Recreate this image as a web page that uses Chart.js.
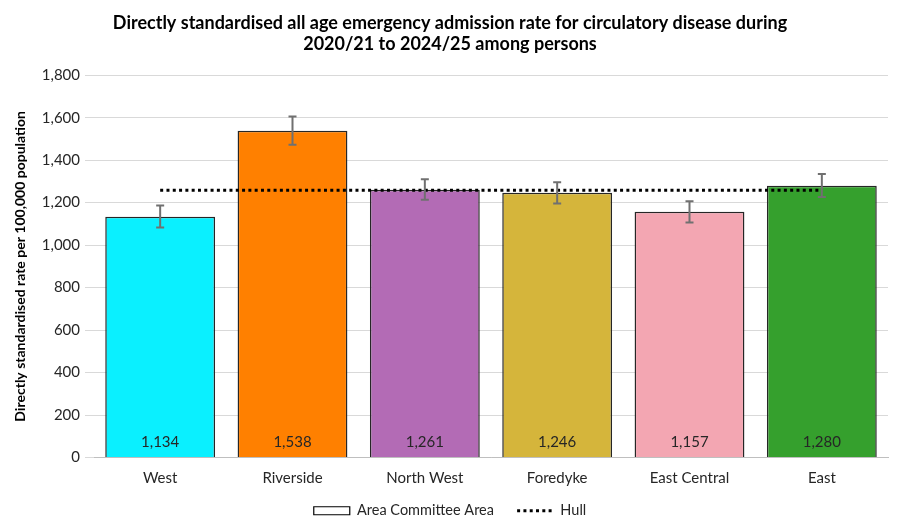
<!DOCTYPE html>
<html>
<head>
<meta charset="utf-8">
<script src="https://cdn.jsdelivr.net/npm/chart.js@4"></script>
<style>
  html, body { margin: 0; padding: 0; background: #fff; }
  #wrap { width: 902px; height: 528px; }
</style>
</head>
<body>
<div id="wrap"><canvas id="chart"></canvas></div>
<script>
const areas = ['West', 'Riverside', 'North West', 'Foredyke', 'East Central', 'East'];
const rates = [1134, 1538, 1261, 1246, 1157, 1280];
const lowerCI = [1083, 1473, 1214, 1196, 1106, 1226];
const upperCI = [1186, 1605, 1310, 1296, 1206, 1335];
const hullRate = [1258, 1258, 1258, 1258, 1258, 1258];
const barColors = ['#0AF0FF', '#FF8000', '#B36BB5', '#D5B53B', '#F3A6B2', '#35A02D'];

const font = 'Lato, Calibri, "Noto Sans", sans-serif';

// error bars + value labels drawn after the datasets
const extrasPlugin = {
  id: 'extras',
  afterDatasetsDraw(chart) {
    const ctx = chart.ctx;
    const y = chart.scales.y;
    const meta = chart.getDatasetMeta(0);
    ctx.save();
    meta.data.forEach((bar, i) => {
      const x = bar.x;
      const top = y.getPixelForValue(upperCI[i]);
      const bottom = y.getPixelForValue(lowerCI[i]);
      ctx.strokeStyle = '#707070';
      ctx.lineWidth = 2;
      ctx.beginPath();
      ctx.moveTo(x, top);
      ctx.lineTo(x, bottom);
      ctx.moveTo(x - 4, top);
      ctx.lineTo(x + 4, top);
      ctx.moveTo(x - 4, bottom);
      ctx.lineTo(x + 4, bottom);
      ctx.stroke();

      ctx.fillStyle = '#262626';
      ctx.font = '15px ' + font;
      ctx.textAlign = 'center';
      ctx.textBaseline = 'middle';
      ctx.fillText(rates[i].toLocaleString('en-GB'), x, y.getPixelForValue(0) - 15);
    });
    ctx.restore();
  }
};

new Chart(document.getElementById('chart'), {
  data: {
    labels: areas,
    datasets: [
      {
        type: 'bar',
        label: 'Area Committee Area',
        data: rates,
        backgroundColor: barColors,
        borderColor: '#262626',
        borderWidth: 1.5,
        categoryPercentage: 0.83,
        barPercentage: 1,
        order: 2,
      },
      {
        type: 'line',
        label: 'Hull',
        data: hullRate,
        borderColor: '#000',
        borderWidth: 3,
        borderDash: [3, 3.3],
        pointRadius: 0,
        fill: false,
        order: 1,
      },
    ],
  },
  options: {
    responsive: true,
    maintainAspectRatio: false,
    animation: false,
    layout: { padding: { left: 12, right: 14, top: 4, bottom: 0 } },
    plugins: {
      title: {
        display: true,
        text: ['Directly standardised all age emergency admission rate for circulatory disease during',
               '2020/21 to 2024/25 among persons'],
        color: '#000',
        font: { family: font, size: 18, weight: 'bold' },
        padding: { top: 8, bottom: 20 },
      },
      legend: {
        position: 'bottom',
        labels: {
          color: '#262626',
          font: { family: font, size: 14.5 },
          usePointStyle: true,
          pointStyleWidth: 36,
          boxHeight: 8,
          padding: 12,
          generateLabels() {
            return [
              { text: 'Area Committee Area   ', fillStyle: '#fff', strokeStyle: '#000', lineWidth: 1.2, pointStyle: 'rect', fontColor: '#262626' },
              { text: 'Hull', fillStyle: '#000', strokeStyle: '#000', lineWidth: 3, lineDash: [3, 3.3], pointStyle: 'line', fontColor: '#262626' },
            ];
          },
        },
      },
      tooltip: { enabled: false },
    },
    scales: {
      x: {
        grid: { display: false },
        border: { color: '#bfbfbf' },
        ticks: { color: '#262626', font: { family: font, size: 15 }, padding: 4 },
      },
      y: {
        min: 0,
        max: 1800,
        ticks: {
          stepSize: 200,
          color: '#262626',
          font: { family: font, size: 15 },
          padding: 5,
          callback: (v) => v.toLocaleString('en-GB'),
        },
        grid: { color: '#d9d9d9', tickLength: 9 },
        border: { display: false },
        title: {
          display: true,
          text: 'Directly standardised rate per 100,000 population',
          color: '#000',
          font: { family: font, size: 14, weight: 'bold' },
          padding: { top: 0, bottom: 8 },
        },
      },
    },
  },
  plugins: [extrasPlugin],
});
</script>
</body>
</html>
